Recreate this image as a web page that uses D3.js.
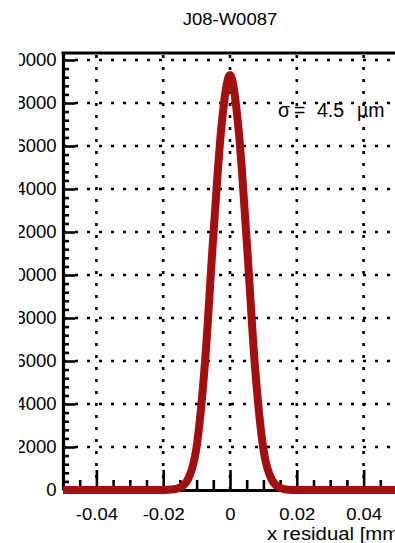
<!DOCTYPE html>
<html>
<head>
<meta charset="utf-8">
<script src="https://cdn.jsdelivr.net/npm/d3@7/dist/d3.min.js"></script>
<style>
  body { margin: 0; background: #fff; }
  text { font-family: "Liberation Sans", Arial, Helvetica, sans-serif; fill: #000; }
</style>
</head>
<body>
<div id="chart"></div>
<script>
/* global d3 */

// residual distribution, values
var residX = [-0.05, -0.025, -0.02, -0.0175, -0.015, -0.0125, -0.01, -0.0075, -0.005, -0.0025, 0,
              0.0025, 0.005, 0.0075, 0.01, 0.0125, 0.015, 0.0175, 0.02, 0.025, 0.05];
var counts = [0, 0, 0, 20, 110, 520, 2000, 5900, 11800, 17000, 19300,
              16900, 11600, 5700, 1900, 480, 100, 15, 0, 0, 0];

var xTicks = [-0.04, -0.02, 0, 0.02, 0.04];
var xMinor = [-0.045, -0.035, -0.03, -0.025, -0.015, -0.01, -0.005,
              0.005, 0.01, 0.015, 0.025, 0.03, 0.035, 0.045];
var yTicks = [0, 2000, 4000, 6000, 8000, 10000, 12000, 14000, 16000, 18000, 20000];
var yMinor = [];
yTicks.forEach(function(t) {
  [400, 800, 1200, 1600].forEach(function(s) { if (t + s < 20326) yMinor.push(t + s); });
});

var title = "J08-W0087",
    sigmaParts = [["σ", 278], ["=", 294], ["4.5", 317], ["µm", 357]],
    xTitle = "x residual [mm]";

var width = 395,
    height = 543,
    plot = {left: 63, right: 397, top: 53, bottom: 490};

var x = d3.scaleLinear().domain([-0.05, 0.05]).range([plot.left, plot.right]);
var y = d3.scaleLinear().domain([0, 20326]).range([plot.bottom, plot.top]);

var svg = d3.select("#chart").append("svg")
    .attr("width", width)
    .attr("height", height);

// left part of the labels is cut off in the original picture
svg.append("clipPath").attr("id", "cut")
  .append("rect").attr("x", 19).attr("y", 0).attr("width", width).attr("height", height);

// dotted grid
var grid = svg.append("g")
    .attr("stroke", "#000")
    .attr("stroke-width", 2.6)
    .attr("stroke-dasharray", "3,9");

grid.selectAll(".vgrid")
    .data(xTicks)
  .enter().append("line")
    .attr("class", "vgrid")
    .attr("x1", function(d) { return x(d); })
    .attr("x2", function(d) { return x(d); })
    .attr("y1", plot.bottom)
    .attr("y2", plot.top);

grid.selectAll(".hgrid")
    .data(yTicks.slice(1))
  .enter().append("line")
    .attr("class", "hgrid")
    .attr("x1", plot.left)
    .attr("x2", plot.right)
    .attr("y1", function(d) { return y(d); })
    .attr("y2", function(d) { return y(d); });

// x axis (ticks pointing up into the frame)
var xAxis = svg.append("g")
    .attr("transform", "translate(0," + plot.bottom + ")")
    .call(d3.axisBottom(x).tickValues(xTicks).tickSize(-20).tickSizeOuter(0).tickPadding(18)
      .tickFormat(function(d) { return d === 0 ? "0" : d3.format(".2f")(d).replace("−", "-"); }));

svg.append("g")
    .attr("transform", "translate(0," + plot.bottom + ")")
    .call(d3.axisBottom(x).tickValues(xMinor).tickSize(-10).tickSizeOuter(0).tickFormat(""))
    .select(".domain").remove();

// y axis (ticks pointing right), wrapped so the clip is in page coordinates
var yWrap = svg.append("g").attr("clip-path", "url(#cut)");

var yAxis = yWrap.append("g")
    .attr("transform", "translate(" + plot.left + ",0)")
    .call(d3.axisLeft(y).tickValues(yTicks).tickSize(-12).tickSizeOuter(0).tickPadding(6)
      .tickFormat(d3.format("d")));

svg.append("g")
    .attr("transform", "translate(" + plot.left + ",0)")
    .call(d3.axisLeft(y).tickValues(yMinor).tickSize(-6).tickSizeOuter(0).tickFormat(""))
    .select(".domain").remove();

svg.selectAll(".tick line").attr("stroke", "#000").attr("stroke-width", 2.6);
svg.selectAll(".domain").attr("stroke", "#000").attr("stroke-width", 3.2);

xAxis.selectAll("text")
    .attr("font-size", 16.8)
    .attr("transform", "scale(1.1,1)");

yAxis.selectAll("text")
    .attr("font-size", 17.5)
    .attr("transform", "scale(1.06,1)");

// top frame line
svg.append("line")
    .attr("x1", plot.left - 1.5).attr("x2", plot.right)
    .attr("y1", plot.top).attr("y2", plot.top)
    .attr("stroke", "#000").attr("stroke-width", 3.2);

// the residual curve
var line = d3.line()
    .x(function(d, i) { return x(residX[i]); })
    .y(function(d) { return y(d); })
    .curve(d3.curveMonotoneX);

svg.append("path")
    .datum(counts)
    .attr("fill", "none")
    .attr("stroke", "#a30e0e")
    .attr("stroke-width", 8)
    .attr("stroke-linejoin", "round")
    .attr("d", line);

// texts
svg.append("text")
    .attr("x", 230).attr("y", 25)
    .attr("text-anchor", "middle")
    .attr("font-size", 16.8)
    .attr("transform", "translate(230,0) scale(1.1,1) translate(-230,0)")
    .text(title);

var sigma = svg.append("text")
    .attr("y", 117)
    .attr("font-size", 19.5);

sigma.selectAll("tspan")
    .data(sigmaParts)
  .enter().append("tspan")
    .attr("x", function(d) { return d[1]; })
    .text(function(d) { return d[0]; });

svg.append("text")
    .attr("x", 267).attr("y", 540)
    .attr("font-size", 18.5)
    .attr("transform", "translate(267,0) scale(1.1,1) translate(-267,0)")
    .text(xTitle);
</script>
</body>
</html>
